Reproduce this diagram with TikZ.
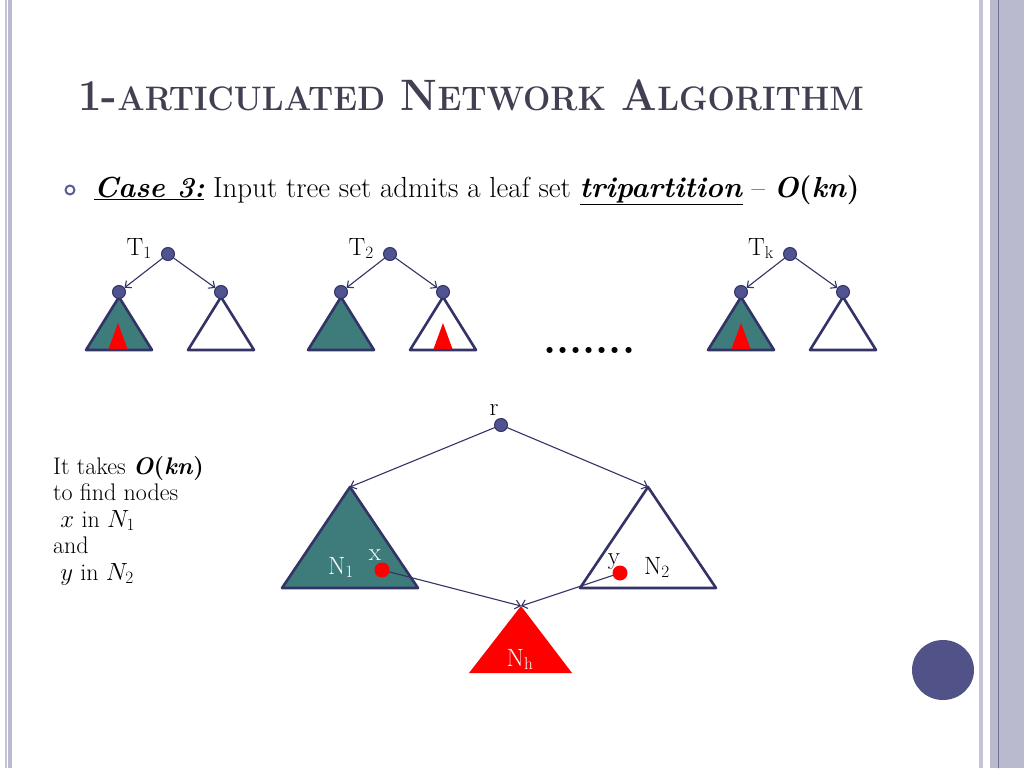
\documentclass[tikz,border=0pt]{standalone}
\usepackage{graphicx}
\usetikzlibrary{arrows.meta}
\definecolor{navy}{RGB}{51,51,102}
\definecolor{dotblue}{RGB}{79,83,144}
\definecolor{treeteal}{RGB}{62,123,123}
\definecolor{titlegray}{RGB}{64,64,82}
\definecolor{bulletblue}{RGB}{90,92,150}
\definecolor{bordlight}{RGB}{196,196,214}
\definecolor{bordband}{RGB}{186,186,206}
\definecolor{circblue}{RGB}{80,82,136}
\newcommand\smallcap[1]{{\fontsize{34}{40}\selectfont #1}}
\begin{document}
\begin{tikzpicture}[x=1pt,y=-1pt,>={Straight Barb[length=5pt,width=9pt]},line join=round,line cap=round,
	dot/.style={circle,fill=dotblue,draw=navy,line width=1pt,inner sep=0pt,minimum size=13pt},
	reddot/.style={circle,fill=red,inner sep=0pt,minimum size=15pt},
	edge/.style={->,navy,line width=1.1pt},
	tri/.style={draw=navy,line width=2.6pt},
	lab/.style={inner sep=1pt,font=\fontsize{25}{30}\selectfont}]
	% --- Khung trang ---
	\useasboundingbox (0,0) rectangle (1024,768);
	\fill[bordlight] (5,0) rectangle (6.5,768);
	\fill[bordband] (8,0) rectangle (12,768);
	\fill[bordlight] (979,0) rectangle (983,768);
	\fill[bordband] (990,0) rectangle (1024,768);
	\draw[navy!70,line width=0.8pt] (998,0)--(998,768);
	\fill[circblue] (943,670) ellipse (31 and 30);
	% --- Tiêu đề và dòng mục ---
	\node[anchor=base west,inner sep=0pt,text=titlegray,font=\fontsize{44}{50}\selectfont\bfseries] (title) at (78,110)
		{\scalebox{0.95}[1]{1-\smallcap{ARTICULATED} N\smallcap{ETWORK} A\smallcap{LGORITHM}}};
	\draw[bulletblue,line width=2pt] (70,190) circle (4.5);
	\node[anchor=base west,inner sep=0pt,font=\fontsize{29}{34}\selectfont] (case) at (94,197)
		{\underline{\textbf{\textit{Case 3:}}} Input tree set admits a leaf set \underline{\textbf{\textit{tripartition}}} -- \textbf{\textit{O}(\textit{kn})}};
	% --- Các cây T_1, T_2, ..., T_k ---
	\foreach \cx/\lab/\rx in {168/1/118,390/2/443,790/k/741}{
		\draw[tri,fill=treeteal] (\cx-49,297) -- ++(-33,53) -- ++(66,0) -- cycle;
		\draw[tri,fill=white] (\cx+53,297) -- ++(-33,53) -- ++(66,0) -- cycle;
		\fill[red] (\rx,323) -- (\rx-9.5,349) -- (\rx+9.5,349) -- cycle;
		\node[dot] (t\lab) at (\cx,254) {};
		\node[dot] (t\lab-l) at (\cx-49,292) {};
		\node[dot] (t\lab-r) at (\cx+53,292) {};
		\node[lab,anchor=base east] (t\lab-name) at (\cx-15,255) {T$_{\mathrm{\lab}}$};
		\draw[edge] (t\lab) -- (t\lab-l);
		\draw[edge] (t\lab) -- (t\lab-r);
	}
	\node[anchor=base west,inner sep=0pt,font=\fontsize{42}{46}\selectfont\bfseries] (dots) at (543,353) {.......};
	% --- Văn bản bên trái ---
	\node[anchor=north west,align=left,inner sep=0pt,font=\fontsize{24}{26.5}\selectfont] (note) at (53,456)
		{It takes \textbf{\textit{O}(\textit{kn})}\\to find nodes\\\ $x$ in $N_1$\\and\\\ $y$ in $N_2$};
	% --- Mạng N_1, N_2, N_h ---
	\coordinate (n1top) at (350,487);
	\coordinate (n2top) at (648,487);
	\coordinate (nhtop) at (521,606);
	\draw[tri,fill=treeteal] (n1top) -- (282,588) -- (418,588) -- cycle;
	\draw[tri,fill=white] (n2top) -- (580,588) -- (716,588) -- cycle;
	\fill[red] (nhtop) -- (469,673) -- (572,673) -- cycle;
	\node[dot] (r) at (501,425) {};
	\node[lab,anchor=base] (rname) at (494,415) {r};
	\node[reddot] (x) at (382,570) {};
	\node[reddot] (y) at (620,573) {};
	\node[lab,text=white,anchor=base] (n1name) at (341,574) {N$_1$};
	\node[lab,text=white,anchor=base] (xname) at (375,560) {x};
	\node[lab,anchor=base] (yname) at (614,564) {y};
	\node[lab,anchor=base] (n2name) at (657,574) {N$_2$};
	\node[lab,text=white,anchor=base] (nhname) at (520,666) {N$_{\mathrm{h}}$};
	\draw[edge] (r) -- (n1top);
	\draw[edge] (r) -- (n2top);
	\draw[edge] (x) -- (nhtop);
	\draw[edge] (y) -- (nhtop);
\end{tikzpicture}
\end{document}
